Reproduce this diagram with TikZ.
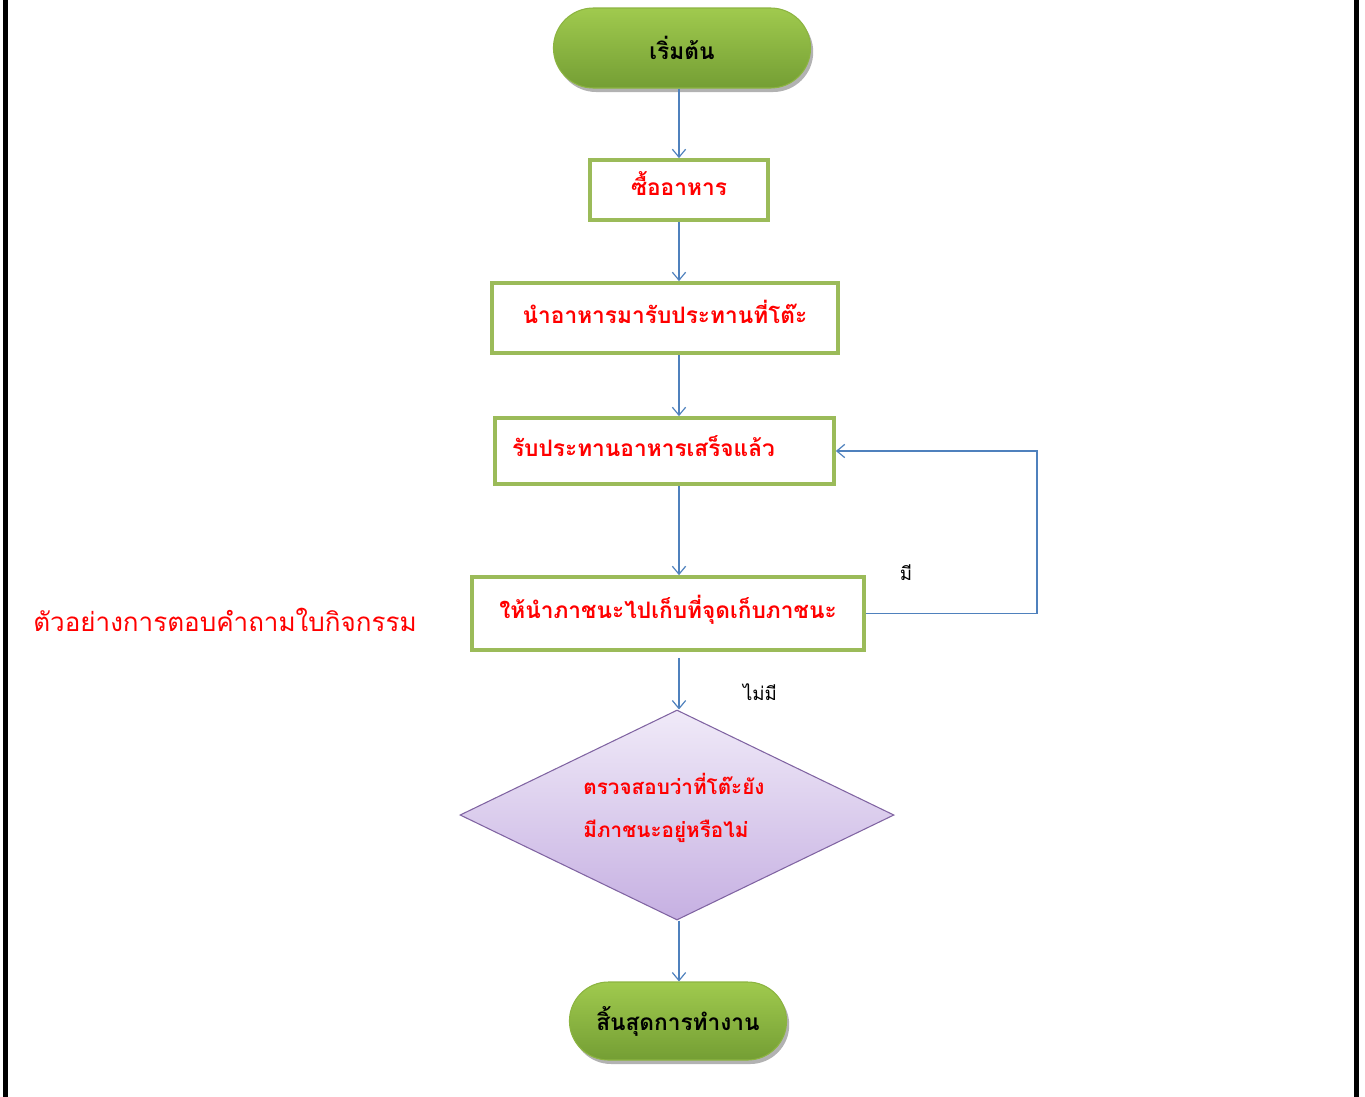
\documentclass[tikz,border=0pt]{standalone}
\usepackage{fontspec}
\setmainfont[Script=Thai]{Loma}
\usetikzlibrary{arrows.meta, shapes.misc, shapes.geometric, shadows}

\definecolor{flowblue}{RGB}{79,129,189}
\definecolor{boxgreen}{RGB}{155,187,89}
\definecolor{termtop}{RGB}{160,202,78}
\definecolor{termbot}{RGB}{116,158,52}
\definecolor{termedge}{RGB}{140,180,65}
\definecolor{diatop}{RGB}{240,234,248}
\definecolor{diabot}{RGB}{198,176,226}
\definecolor{diaedge}{RGB}{128,100,162}
\definecolor{labelred}{RGB}{255,0,0}

\begin{document}
\begin{tikzpicture}[x=0.75pt, y=-0.75pt,
    term/.style={rounded rectangle, draw=termedge, line width=0.8pt,
        top color=termtop, bottom color=termbot, font=\bfseries\fontsize{17}{20}\selectfont,
        drop shadow={shadow xshift=2pt, shadow yshift=-3pt, opacity=0.3, fill=black}},
    stepbox/.style={rectangle, draw=boxgreen, line width=2.8pt, fill=white,
        text=labelred, font=\bfseries\fontsize{17}{20}\selectfont,
        text height=12pt, text depth=4pt},
    decision/.style={diamond, draw=diaedge, line width=0.8pt, inner sep=0pt,
        top color=diatop, bottom color=diabot},
    flow/.style={draw=flowblue, line width=0.9pt, -{Straight Barb[length=6pt, width=10pt]}},
    note/.style={font=\fontsize{14}{16}\selectfont}]
    % page: 1 unit = 1 pixel of the reference, y runs downwards
    \def\px{0.75pt}
    \useasboundingbox (0,0) rectangle (1365,1097);

    % side bars
    \fill[black] (3,0) rectangle (8,1097);
    \fill[black] (1354,0) rectangle (1359,1097);

    % main axis of the arrows and x of the loop back
    \coordinate (axis) at (679,0);
    \coordinate (loopR) at (1037,0);

    % shapes
    \node[term, minimum width=266*\px, minimum height=80*\px] (start) at (682,48) {เริ่มต้น};
    \node[stepbox, minimum width=178*\px, minimum height=60*\px] (b1) at (679,190) {ซื้ออาหาร};
    \node[stepbox, minimum width=346*\px, minimum height=70*\px] (b2) at (665,318) {นำอาหารมารับประทานที่โต๊ะ};
    \node[stepbox, minimum height=66*\px, inner xsep=17*\px, text width=305*\px, align=left] (b3) at (664.5,451) {รับประทานอาหารเสร็จแล้ว};
    \node[stepbox, minimum width=392*\px, minimum height=73*\px] (b4) at (668,613.5) {ให้นำภาชนะไปเก็บที่จุดเก็บภาชนะ};
    \node[decision, minimum width=434*\px, minimum height=210*\px] (chk) at (677,815) {};
    \node[text=labelred, align=left, font=\bfseries\fontsize{15.5}{20}\selectfont] (chktxt) at (674,808)
        {ตรวจสอบว่าที่โต๊ะยัง\\[12pt]มีภาชนะอยู่หรือไม่};
    \node[term, minimum width=226*\px, minimum height=78*\px] (stop) at (678,1021) {สิ้นสุดการทำงาน};

    % title on the left
    \node[text=labelred, font=\fontsize{19.5}{22}\selectfont] (title) at (225,620) {ตัวอย่างการตอบคำถามใบกิจกรรม};

    % connectors
    \draw[flow] (start.south -| axis) -- (b1.north -| axis);
    \draw[flow] (b1.south -| axis) -- (b2.north -| axis);
    \draw[flow] (b2.south -| axis) -- (b3.north -| axis);
    \draw[flow] (b3.south -| axis) -- (b4.north -| axis);
    \draw[flow, shorten <=6*\px] (b4.south -| axis) -- (chk.north -| axis);
    \draw[flow] (chk.south -| axis) -- (stop.north -| axis);
    \draw[flow] (b4.east) -- (b4.east -| loopR) |- (b3.east);

    % branch labels
    \node[note] (yes) at (906,573) {มี};
    \node[note] (no) at (760,692) {ไม่มี};
\end{tikzpicture}
\end{document}
